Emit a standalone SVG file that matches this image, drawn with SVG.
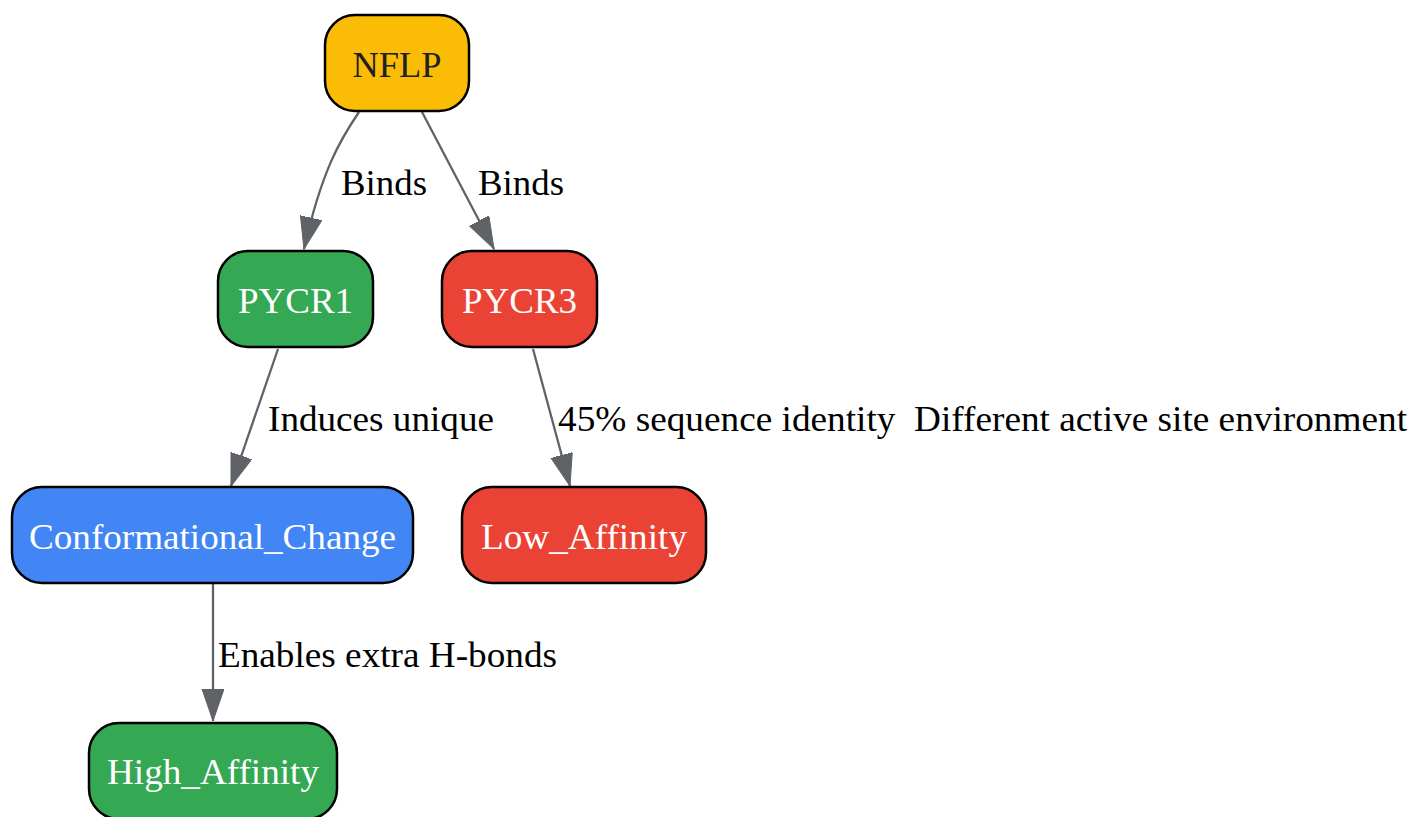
<svg xmlns="http://www.w3.org/2000/svg" width="1414" height="817" viewBox="0 0 1414 817">
<style>
.n{stroke:#000;stroke-width:2.5}
.t{font-family:"Liberation Serif","Times New Roman",serif;font-size:36px;text-anchor:middle}
.w{fill:#fff}
.e{fill:none;stroke:#5f6368;stroke-width:2.3}
.l{font-family:"Liberation Serif","Times New Roman",serif;font-size:36px;fill:#000}
</style>
<defs>
<marker id="ah" markerUnits="userSpaceOnUse" markerWidth="34" markerHeight="24" refX="32" refY="11" orient="auto" viewBox="0 0 34 24">
<path d="M0,0 L32,11 L0,22 Z" fill="#5f6368" stroke="#5f6368" stroke-width="1"/>
</marker>
</defs>
<rect width="1414" height="817" fill="#fff"/>
<g id="connectors">
<path class="e" marker-end="url(#ah)" d="M359,112 C340,140 322,170 304,249"/>
<path class="e" marker-end="url(#ah)" d="M422,112 L494,249"/>
<path class="e" marker-end="url(#ah)" d="M278,349 L231,486"/>
<path class="e" marker-end="url(#ah)" d="M533,349 L570,486"/>
<path class="e" marker-end="url(#ah)" d="M213,584 L213,721"/>
<text class="l" x="341" y="195" textLength="86" lengthAdjust="spacingAndGlyphs">Binds</text>
<text class="l" x="478" y="195" textLength="86" lengthAdjust="spacingAndGlyphs">Binds</text>
<text class="l" x="268" y="431" textLength="226" lengthAdjust="spacingAndGlyphs">Induces unique</text>
<text class="l" x="558" y="431" textLength="849" lengthAdjust="spacingAndGlyphs" xml:space="preserve">45% sequence identity  Different active site environment</text>
<text class="l" x="218" y="667" textLength="339" lengthAdjust="spacingAndGlyphs">Enables extra H-bonds</text>
</g>
<g id="NFLP">
<rect class="n" x="325" y="15" width="144" height="96" rx="30" fill="#fbbc05"/>
<text class="t" x="397" y="77" fill="#202124" textLength="89" lengthAdjust="spacingAndGlyphs">NFLP</text>
</g>
<g id="PYCR1">
<rect class="n" x="218" y="251" width="155" height="96" rx="30" fill="#34a853"/>
<text class="t w" x="295.5" y="313" textLength="115" lengthAdjust="spacingAndGlyphs">PYCR1</text>
</g>
<g id="PYCR3">
<rect class="n" x="442" y="251" width="155" height="96" rx="30" fill="#ea4335"/>
<text class="t w" x="519.5" y="313" textLength="115" lengthAdjust="spacingAndGlyphs">PYCR3</text>
</g>
<g id="Conformational_Change">
<rect class="n" x="12" y="487" width="401" height="96" rx="30" fill="#4285f4"/>
<text class="t w" x="212.5" y="549" textLength="367" lengthAdjust="spacingAndGlyphs">Conformational_Change</text>
</g>
<g id="Low_Affinity">
<rect class="n" x="462" y="487" width="244" height="96" rx="30" fill="#ea4335"/>
<text class="t w" x="584" y="549" textLength="206" lengthAdjust="spacingAndGlyphs">Low_Affinity</text>
</g>
<g id="High_Affinity">
<rect class="n" x="89" y="723" width="248" height="96" rx="30" fill="#34a853"/>
<text class="t w" x="213" y="784" textLength="212" lengthAdjust="spacingAndGlyphs">High_Affinity</text>
</g>
</svg>
